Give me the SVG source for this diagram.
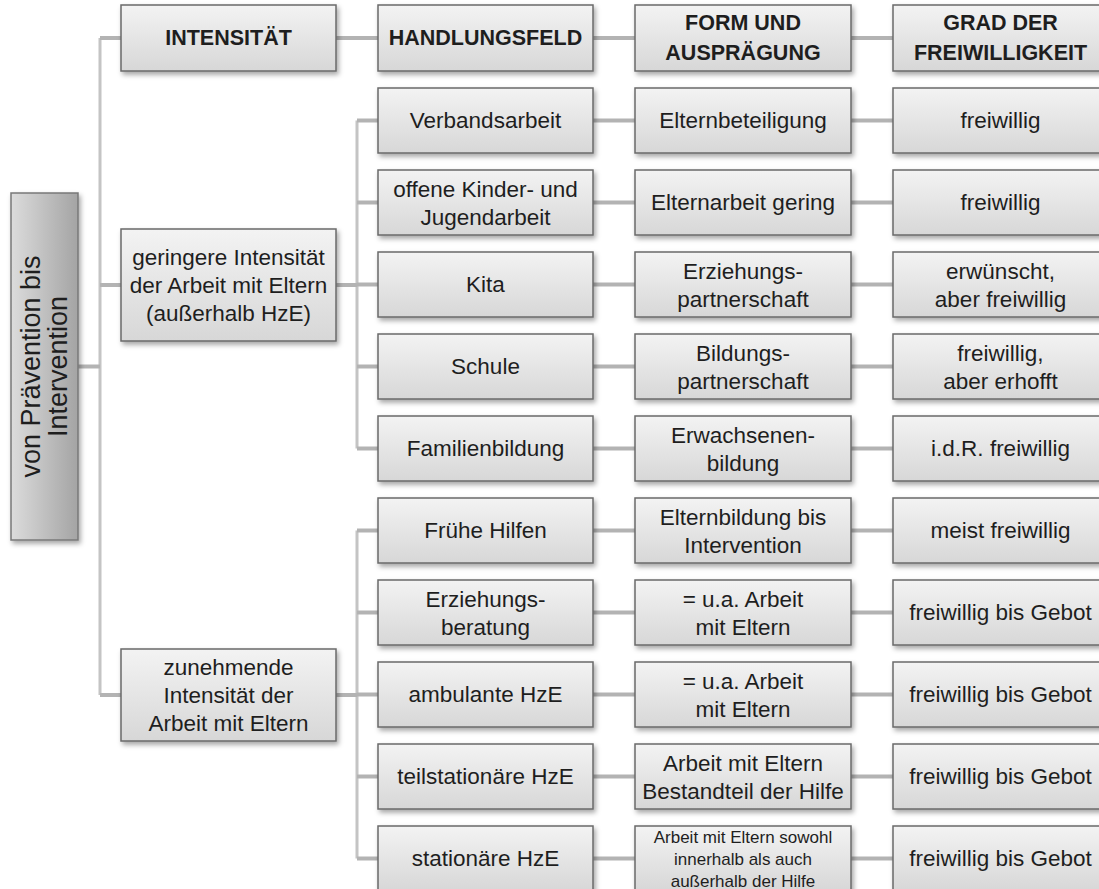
<svg xmlns="http://www.w3.org/2000/svg" width="1099" height="889" viewBox="0 0 1099 889">
<defs>
<linearGradient id="gBox" x1="0" y1="0" x2="0" y2="1">
<stop offset="0" stop-color="#f3f3f3"/>
<stop offset="1" stop-color="#d7d7d7"/>
</linearGradient>
<linearGradient id="gSide" x1="0" y1="0" x2="1" y2="0">
<stop offset="0" stop-color="#dcdcdc"/>
<stop offset="1" stop-color="#a4a4a4"/>
</linearGradient>
<filter id="sh" x="-10%" y="-10%" width="130%" height="140%">
<feDropShadow dx="2" dy="3" stdDeviation="2.5" flood-color="#000" flood-opacity="0.35"/>
</filter>
</defs>
<style>
.box{fill:url(#gBox);stroke:#6a6a6a;stroke-width:1.5;filter:url(#sh)}
.side{fill:url(#gSide);stroke:#787878;stroke-width:1.5;filter:url(#sh)}
text{font-family:"Liberation Sans",Arial,sans-serif;fill:#1e1e1e;text-anchor:middle}
.t{font-size:22.5px}
.h{font-size:21.5px;font-weight:bold}
.s{font-size:17px}
.v{font-size:27px}
.trunk{stroke:#c4c4c4;stroke-width:3;fill:none}
.stub{stroke:#b3b3b3;stroke-width:4;fill:none}
</style>
<rect width="1099" height="889" fill="#ffffff"/>
<g id="connectors">
<path class="trunk" d="M100 38V695"/>
<path class="trunk" d="M357 120.5V448.5"/>
<path class="trunk" d="M357 530.5V858.5"/>
<path class="stub" d="M78 366.5H100M100 38H121M100 285H121M100 695H121M336 285H357M336 695H357"/>
<path class="stub" d="M336 38H378M593 38H635M851 38H893"/>
<path class="stub" d="M357 120.5H378M593 120.5H635M851 120.5H893"/>
<path class="stub" d="M357 202.5H378M593 202.5H635M851 202.5H893"/>
<path class="stub" d="M357 284.5H378M593 284.5H635M851 284.5H893"/>
<path class="stub" d="M357 366.5H378M593 366.5H635M851 366.5H893"/>
<path class="stub" d="M357 448.5H378M593 448.5H635M851 448.5H893"/>
<path class="stub" d="M357 530.5H378M593 530.5H635M851 530.5H893"/>
<path class="stub" d="M357 612.5H378M593 612.5H635M851 612.5H893"/>
<path class="stub" d="M357 694.5H378M593 694.5H635M851 694.5H893"/>
<path class="stub" d="M357 776.5H378M593 776.5H635M851 776.5H893"/>
<path class="stub" d="M357 858.5H378M593 858.5H635M851 858.5H893"/>
</g>
<g id="root">
<rect class="side" x="11" y="193" width="67" height="347"/>
<g transform="translate(44.5 366.5) rotate(-90)">
<text class="v" x="0" y="-4.5">von Prävention bis</text>
<text class="v" x="0" y="22.5">Intervention</text>
</g>
</g>
<g id="h-intensitaet"><rect class="box" x="121" y="5" width="215" height="66"/><text class="h" x="228.5" y="45">INTENSITÄT</text></g>
<g id="h-handlungsfeld"><rect class="box" x="378" y="5" width="215" height="66"/><text class="h" x="485.5" y="45">HANDLUNGSFELD</text></g>
<g id="h-form"><rect class="box" x="635" y="5" width="216" height="66"/><text class="h" x="743" y="30">FORM UND</text><text class="h" x="743" y="60">AUSPRÄGUNG</text></g>
<g id="h-grad"><rect class="box" x="893" y="5" width="215" height="66"/><text class="h" x="1000.5" y="30">GRAD DER</text><text class="h" x="1000.5" y="60">FREIWILLIGKEIT</text></g>
<g id="geringere"><rect class="box" x="121" y="229" width="215" height="112"/><text class="t" x="228.5" y="265">geringere Intensität</text><text class="t" x="228.5" y="293">der Arbeit mit Eltern</text><text class="t" x="228.5" y="321">(außerhalb HzE)</text></g>
<g id="zunehmende"><rect class="box" x="121" y="649" width="215" height="92"/><text class="t" x="228.5" y="675">zunehmende</text><text class="t" x="228.5" y="703">Intensität der</text><text class="t" x="228.5" y="731">Arbeit mit Eltern</text></g>
<g id="hf1"><rect class="box" x="378" y="88" width="215" height="65"/><text class="t" x="485.5" y="127.5">Verbandsarbeit</text></g>
<g id="hf2"><rect class="box" x="378" y="170" width="215" height="65"/><text class="t" x="485.5" y="196.5">offene Kinder- und</text><text class="t" x="485.5" y="224.5">Jugendarbeit</text></g>
<g id="hf3"><rect class="box" x="378" y="252" width="215" height="65"/><text class="t" x="485.5" y="291.5">Kita</text></g>
<g id="hf4"><rect class="box" x="378" y="334" width="215" height="65"/><text class="t" x="485.5" y="373.5">Schule</text></g>
<g id="hf5"><rect class="box" x="378" y="416" width="215" height="65"/><text class="t" x="485.5" y="455.5">Familienbildung</text></g>
<g id="hf6"><rect class="box" x="378" y="498" width="215" height="65"/><text class="t" x="485.5" y="537.5">Frühe Hilfen</text></g>
<g id="hf7"><rect class="box" x="378" y="580" width="215" height="65"/><text class="t" x="485.5" y="606.5">Erziehungs-</text><text class="t" x="485.5" y="634.5">beratung</text></g>
<g id="hf8"><rect class="box" x="378" y="662" width="215" height="65"/><text class="t" x="485.5" y="701.5">ambulante HzE</text></g>
<g id="hf9"><rect class="box" x="378" y="744" width="215" height="65"/><text class="t" x="485.5" y="783.5">teilstationäre HzE</text></g>
<g id="hf10"><rect class="box" x="378" y="826" width="215" height="65"/><text class="t" x="485.5" y="865.5">stationäre HzE</text></g>
<g id="fa1"><rect class="box" x="635" y="88" width="216" height="65"/><text class="t" x="743" y="127.5">Elternbeteiligung</text></g>
<g id="fa2"><rect class="box" x="635" y="170" width="216" height="65"/><text class="t" x="743" y="209.5">Elternarbeit gering</text></g>
<g id="fa3"><rect class="box" x="635" y="252" width="216" height="65"/><text class="t" x="743" y="278.5">Erziehungs-</text><text class="t" x="743" y="306.5">partnerschaft</text></g>
<g id="fa4"><rect class="box" x="635" y="334" width="216" height="65"/><text class="t" x="743" y="360.5">Bildungs-</text><text class="t" x="743" y="388.5">partnerschaft</text></g>
<g id="fa5"><rect class="box" x="635" y="416" width="216" height="65"/><text class="t" x="743" y="442.5">Erwachsenen-</text><text class="t" x="743" y="470.5">bildung</text></g>
<g id="fa6"><rect class="box" x="635" y="498" width="216" height="65"/><text class="t" x="743" y="524.5">Elternbildung bis</text><text class="t" x="743" y="552.5">Intervention</text></g>
<g id="fa7"><rect class="box" x="635" y="580" width="216" height="65"/><text class="t" x="743" y="606.5">= u.a. Arbeit</text><text class="t" x="743" y="634.5">mit Eltern</text></g>
<g id="fa8"><rect class="box" x="635" y="662" width="216" height="65"/><text class="t" x="743" y="688.5">= u.a. Arbeit</text><text class="t" x="743" y="716.5">mit Eltern</text></g>
<g id="fa9"><rect class="box" x="635" y="744" width="216" height="65"/><text class="t" x="743" y="771">Arbeit mit Eltern</text><text class="t" x="743" y="799">Bestandteil der Hilfe</text></g>
<g id="fa10"><rect class="box" x="635" y="826" width="216" height="65"/><text class="s" x="743" y="842.5">Arbeit mit Eltern sowohl</text><text class="s" x="743" y="864.5">innerhalb als auch</text><text class="s" x="743" y="886.5">außerhalb der Hilfe</text></g>
<g id="gf1"><rect class="box" x="893" y="88" width="215" height="65"/><text class="t" x="1000.5" y="127.5">freiwillig</text></g>
<g id="gf2"><rect class="box" x="893" y="170" width="215" height="65"/><text class="t" x="1000.5" y="209.5">freiwillig</text></g>
<g id="gf3"><rect class="box" x="893" y="252" width="215" height="65"/><text class="t" x="1000.5" y="278.5">erwünscht,</text><text class="t" x="1000.5" y="306.5">aber freiwillig</text></g>
<g id="gf4"><rect class="box" x="893" y="334" width="215" height="65"/><text class="t" x="1000.5" y="360.5">freiwillig,</text><text class="t" x="1000.5" y="388.5">aber erhofft</text></g>
<g id="gf5"><rect class="box" x="893" y="416" width="215" height="65"/><text class="t" x="1000.5" y="455.5">i.d.R. freiwillig</text></g>
<g id="gf6"><rect class="box" x="893" y="498" width="215" height="65"/><text class="t" x="1000.5" y="537.5">meist freiwillig</text></g>
<g id="gf7"><rect class="box" x="893" y="580" width="215" height="65"/><text class="t" x="1000.5" y="619.5">freiwillig bis Gebot</text></g>
<g id="gf8"><rect class="box" x="893" y="662" width="215" height="65"/><text class="t" x="1000.5" y="701.5">freiwillig bis Gebot</text></g>
<g id="gf9"><rect class="box" x="893" y="744" width="215" height="65"/><text class="t" x="1000.5" y="783.5">freiwillig bis Gebot</text></g>
<g id="gf10"><rect class="box" x="893" y="826" width="215" height="65"/><text class="t" x="1000.5" y="865.5">freiwillig bis Gebot</text></g>
</svg>
